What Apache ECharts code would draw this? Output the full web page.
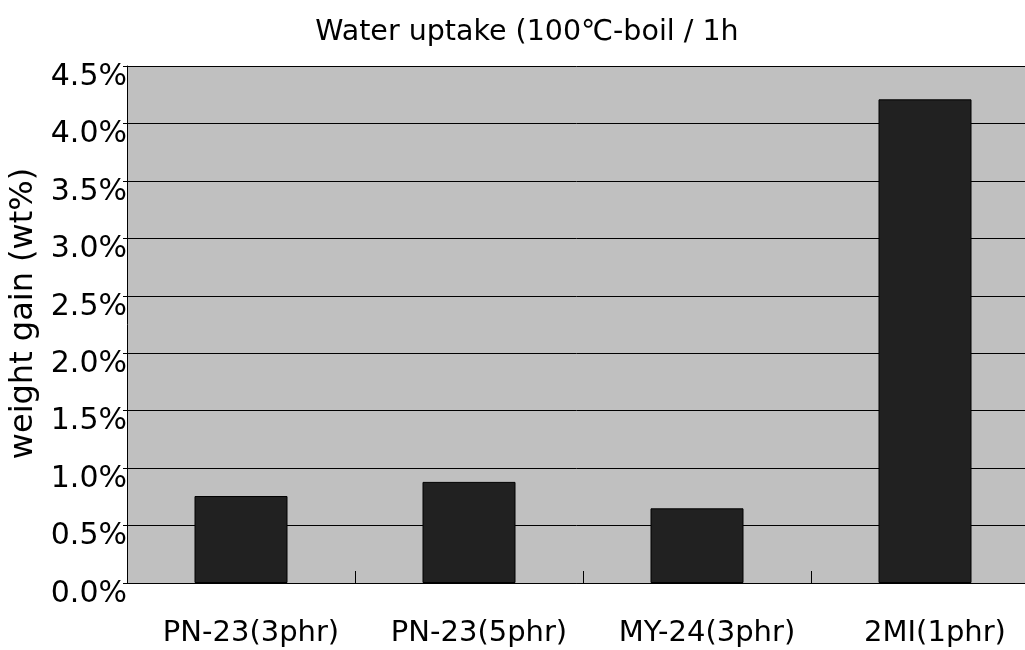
<!DOCTYPE html>
<html>
<head>
<meta charset="utf-8">
<script src="https://cdn.jsdelivr.net/npm/echarts@6/dist/echarts.min.js"></script>
<style>
  html, body { margin: 0; padding: 0; background: #fff; }
  #chart { width: 1025px; height: 650px; }
</style>
</head>
<body>
<div id="chart"></div>
<script>
// Samples and their water uptake after 1 h in boiling water (percent by weight)
const categories = ['PN-23(3phr)', 'PN-23(5phr)', 'MY-24(3phr)', '2MI(1phr)'];
const uptake = [0.757, 0.88, 0.65, 4.21];
const yTicks = { min: 0, max: 4.5, step: 0.5 };

const FONT = 'DejaVu Sans';
const chart = echarts.init(document.getElementById('chart'), null, { renderer: 'canvas' });

chart.setOption({
  animation: false,
  backgroundColor: '#ffffff',
  title: {
    text: 'Water uptake (100℃-boil / 1h',
    left: 522,
    textAlign: 'center',
    top: 13,
    textStyle: { fontFamily: FONT, fontSize: 28.5, fontWeight: 'normal', color: '#000' }
  },
  grid: {
    left: 127,
    top: 66,
    width: 912,
    height: 517,
    outerBoundsMode: 'none',
    containLabel: false,
    show: true,
    backgroundColor: '#c0c0c0',
    borderWidth: 0
  },
  xAxis: {
    type: 'category',
    data: categories,
    axisLine: { show: true, lineStyle: { color: '#000', width: 1 } },
    axisTick: { show: true, inside: true, length: 12, lineStyle: { color: '#000' } },
    axisLabel: {
      margin: 36,
      formatter: v => '{c|' + v + '}',
      rich: {
        c: { fontFamily: FONT, fontSize: 29, color: '#000', padding: [0, 0, 0, 20] }
      }
    },
    splitLine: { show: false }
  },
  yAxis: {
    type: 'value',
    min: yTicks.min,
    max: yTicks.max,
    interval: yTicks.step,
    name: 'weight gain (wt%)',
    nameLocation: 'middle',
    nameRotate: 90,
    nameGap: 84,
    nameTextStyle: { fontFamily: FONT, fontSize: 32, color: '#000', padding: [0, 0, 0, 22] },
    axisLine: { show: true, lineStyle: { color: '#000', width: 1 } },
    axisTick: { show: true, length: 4, lineStyle: { color: '#000' } },
    axisLabel: {
      color: '#000', margin: 0,
      formatter: v => '{t|' + v.toFixed(1) + '%}',
      rich: {
        t: { fontFamily: FONT, fontSize: 30, color: '#000', padding: [22, 0, 0, 0] }
      }
    },
    splitLine: { show: true, lineStyle: { color: '#000', width: 1 } }
  },
  series: [{
    type: 'bar',
    data: uptake,
    barWidth: 93,
    itemStyle: { color: '#212121', borderColor: '#000', borderWidth: 1 }
  }]
});
</script>
</body>
</html>
